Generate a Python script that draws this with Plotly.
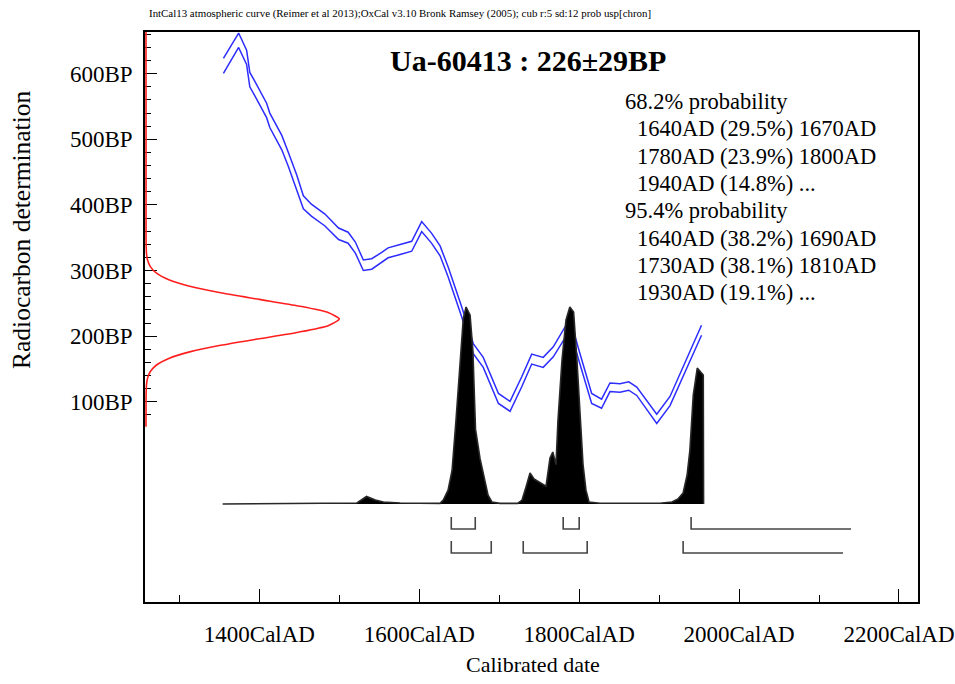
import plotly.graph_objects as go

# ---------------- data ----------------
# calibration curve (IntCal13) : calendar year AD, mean BP, 1-sigma BP
cal_year = [1355, 1374, 1384, 1388, 1394.5, 1398.6, 1409, 1413, 1428, 1436, 1446.7, 1455,
            1465, 1482, 1499, 1511, 1520, 1530, 1540.5, 1553, 1561, 1576, 1590.5, 1603,
            1615.5, 1626, 1636, 1653, 1667.5, 1680, 1699, 1713.5, 1728, 1740.6, 1755,
            1767.6, 1788.5, 1801, 1815.6, 1828, 1838.5, 1851, 1862, 1872, 1884, 1897,
            1913.6, 1930, 1953]
cal_bp = [612, 651, 625, 591, 577, 567, 544, 529, 495, 470, 435, 404,
          392, 377, 356, 350, 335, 308, 310, 320, 327, 332, 337, 367,
          349, 330, 298, 237, 181, 160, 105, 93, 130, 165, 160,
          176, 218, 165, 105, 97, 122, 121, 124, 116, 96, 74,
          101, 146, 209]
cal_sigma = [11.4, 11.0, 11.0, 11.0, 11.0, 11.0, 11.0, 11.0, 11.0, 10.8, 10.7, 9.9,
             9.1, 9.1, 8.8, 8.4, 8.4, 8.0, 8.0, 7.6, 7.6, 7.6, 7.6, 7.6,
             7.6, 7.6, 7.6, 7.6, 7.6, 7.6, 7.6, 7.6, 7.6, 7.6, 7.6,
             7.6, 8.5, 8.0, 7.6, 7.0, 6.6, 6.4, 6.4, 6.4, 6.4, 7.0,
             7.0, 7.4, 7.6]

# calibrated probability distribution (relative)
prob_year = [1354, 1522, 1534, 1545, 1555, 1576, 1626, 1630, 1636, 1641, 1646, 1651,
             1655, 1658.5, 1663.5, 1667, 1670.3, 1676, 1681, 1686, 1691, 1701, 1723,
             1728.5, 1733.5, 1738.5, 1743.5, 1751, 1758.5, 1763.5, 1767, 1771, 1773.5,
             1778.5, 1783.5, 1788.3, 1793, 1797.2, 1801, 1804.8, 1808.5, 1812.3, 1826,
             1901, 1916, 1923.5, 1930, 1935, 1938.5, 1942.7, 1947.7, 1955.2, 1955.6]
prob_rel = [0, 0.005, 0.038, 0.02, 0.01, 0.005, 0.003, 0.02, 0.07, 0.17, 0.43, 0.73,
            0.94, 1.0, 0.96, 0.78, 0.38, 0.23, 0.13, 0.045, 0.01, 0.003, 0.003,
            0.02, 0.086, 0.157, 0.127, 0.107, 0.09, 0.233, 0.264, 0.2, 0.426,
            0.73, 0.934, 1.0, 0.975, 0.73, 0.43, 0.2, 0.07, 0.01, 0.004,
            0.004, 0.01, 0.025, 0.056, 0.147, 0.274, 0.553, 0.69, 0.655, 0]

# radiocarbon determination 226 +/- 29 BP (relative density)
gauss_bp = [665, 346, 336, 326, 316, 306, 296, 286, 276, 266, 256, 246, 236, 226,
            216, 206, 196, 186, 176, 166, 156, 146, 136, 126, 116, 106, 62]
gauss_rel = [0, 0.0003, 0.001, 0.0026, 0.0081, 0.0223, 0.0543, 0.118, 0.226, 0.386,
             0.586, 0.788, 0.942, 1.0, 0.942, 0.788, 0.586, 0.386, 0.226, 0.118,
             0.0543, 0.0223, 0.0081, 0.0026, 0.001, 0.0003, 0]

# calibrated ranges: (from, percent, to) ; None = open ended
ranges_68 = [(1640, 29.5, 1670), (1780, 23.9, 1800), (1940, 14.8, None)]
ranges_95 = [(1640, 38.2, 1690), (1730, 38.1, 1810), (1930, 19.1, None)]
open_extent = 200

x_tick_vals = [1400, 1600, 1800, 2000, 2200]
x_tick_text = ["1400CalAD", "1600CalAD", "1800CalAD", "2000CalAD", "2200CalAD"]
y_tick_vals = [100, 200, 300, 400, 500, 600]
y_tick_text = ["100BP", "200BP", "300BP", "400BP", "500BP", "600BP"]
y_minor_vals = list(range(80, 661, 20))

lab_name = "Ua-60413"
lab_bp = 226
lab_err = 29
header_small = ("IntCal13 atmospheric curve (Reimer et al 2013);OxCal v3.10 Bronk Ramsey "
                "(2005); cub r:5 sd:12 prob usp[chron]")

# ---------------- figure ----------------
SERIF = "Liberation Serif, Times New Roman, serif"
BLUE = "rgb(45,45,255)"

fig = go.Figure()

upper = [m + s for m, s in zip(cal_bp, cal_sigma)]
lower = [m - s for m, s in zip(cal_bp, cal_sigma)]
for arr in (upper, lower):
    fig.add_trace(go.Scatter(x=cal_year, y=arr, mode="lines",
                             line=dict(color=BLUE, width=1.5),
                             hoverinfo="skip", showlegend=False))

fig.add_trace(go.Scatter(x=prob_year, y=prob_rel, yaxis="y2", mode="lines",
                         fill="tozeroy", fillcolor="black",
                         line=dict(color="rgb(40,40,40)", width=1.6),
                         hoverinfo="skip", showlegend=False))

# range brackets
row_levels = [(-0.066, -0.127), (-0.188, -0.249)]
for rngs, (top, bot) in zip([ranges_68, ranges_95], row_levels):
    bx, by = [], []
    for a, p, b in rngs:
        if b is None:
            bx += [a, a, a + open_extent, None]
            by += [top, bot, bot, None]
        else:
            bx += [a, a, b, b, None]
            by += [top, bot, bot, top, None]
    fig.add_trace(go.Scatter(x=bx, y=by, yaxis="y2", mode="lines",
                             line=dict(color="rgb(70,70,70)", width=1.6),
                             hoverinfo="skip", showlegend=False))

fig.add_trace(go.Scatter(x=gauss_rel, y=gauss_bp, xaxis="x2", mode="lines",
                         line=dict(color="rgb(255,30,30)", width=1.6, shape="spline",
                                   smoothing=0.6),
                         hoverinfo="skip", showlegend=False))

# ---------------- annotations ----------------
W, H = 955, 684
L, R, T, B = 145, 37, 32, 82
pw, ph = W - L - R, H - T - B


def px(xp):
    return (xp - L) / pw


def py(yp):
    return (H - B - yp) / ph


ann = []
ann.append(dict(text=header_small, x=px(147), y=py(14), xanchor="left", yanchor="middle",
                font=dict(size=10.9, family=SERIF, color="black")))
ann.append(dict(text=f"<b>{lab_name} : {lab_bp}±{lab_err}BP</b>", x=px(528), y=py(60),
                xanchor="center", yanchor="middle",
                font=dict(size=30, family=SERIF, color="black")))

lines = []
for label, rngs in (("68.2% probability", ranges_68), ("95.4% probability", ranges_95)):
    lines.append((label, 623))
    for a, p, b in rngs:
        end = f"{b}AD" if b is not None else "..."
        lines.append((f"{a}AD ({p}%) {end}", 635))
y0, dy = 101.5, 27.3
for i, (t, xl) in enumerate(lines):
    ann.append(dict(text=t, x=px(xl), y=py(y0 + i * dy), xanchor="left", yanchor="middle",
                    font=dict(size=22.5, family=SERIF, color="black")))

ann.append(dict(text="Radiocarbon determination", x=px(22), y=py(229), textangle=-90,
                xanchor="center", yanchor="middle",
                font=dict(size=25.5, family=SERIF, color="black")))
ann.append(dict(text="Calibrated date", x=px(533), y=py(665),
                xanchor="center", yanchor="middle",
                font=dict(size=22, family=SERIF, color="black")))
for a in ann:
    a.update(xref="paper", yref="paper", showarrow=False)

# pixel-calibrated ranges
x_range = [1256.9, 2223.8]
y_range = [-205.3, 663.6]
y2_range = [-0.49746, 2.39596]
x2_range = [-0.0052, 3.9938]

fig.update_layout(
    width=W, height=H,
    margin=dict(l=L, r=R, t=T, b=B, autoexpand=False),
    paper_bgcolor="white", plot_bgcolor="white",
    showlegend=False,
    annotations=ann,
    xaxis=dict(range=x_range, showgrid=False, zeroline=False, automargin=False,
               showline=True, linecolor="black", linewidth=1.6, mirror=True,
               ticks="inside", ticklen=13, tickwidth=1.4, tickcolor="black",
               tickvals=x_tick_vals, ticktext=x_tick_text,
               tickfont=dict(size=23, family=SERIF, color="black"),
               ticklabelstandoff=11,
               minor=dict(dtick=100, tick0=1300, ticks="inside", ticklen=7,
                          tickwidth=1.4, tickcolor="black", showgrid=False),
               layer="below traces"),
    yaxis=dict(range=y_range, showgrid=False, zeroline=False, automargin=False,
               showline=True, linecolor="black", linewidth=1.6, mirror=True,
               ticks="inside", ticklen=12, tickwidth=1.4, tickcolor="black",
               tickvals=y_tick_vals, ticktext=y_tick_text,
               tickfont=dict(size=23, family=SERIF, color="black"),
               ticklabelstandoff=6,
               minor=dict(tickmode="array", tickvals=y_minor_vals, ticks="inside",
                          ticklen=6, tickwidth=1.4, tickcolor="black", showgrid=False),
               layer="below traces"),
    xaxis2=dict(range=x2_range, overlaying="x", visible=False),
    yaxis2=dict(range=y2_range, overlaying="y", visible=False),
)

fig.write_html("out.html", config={"displayModeBar": False},
               post_script="document.body.style.margin='0';document.body.style.padding='0';")
